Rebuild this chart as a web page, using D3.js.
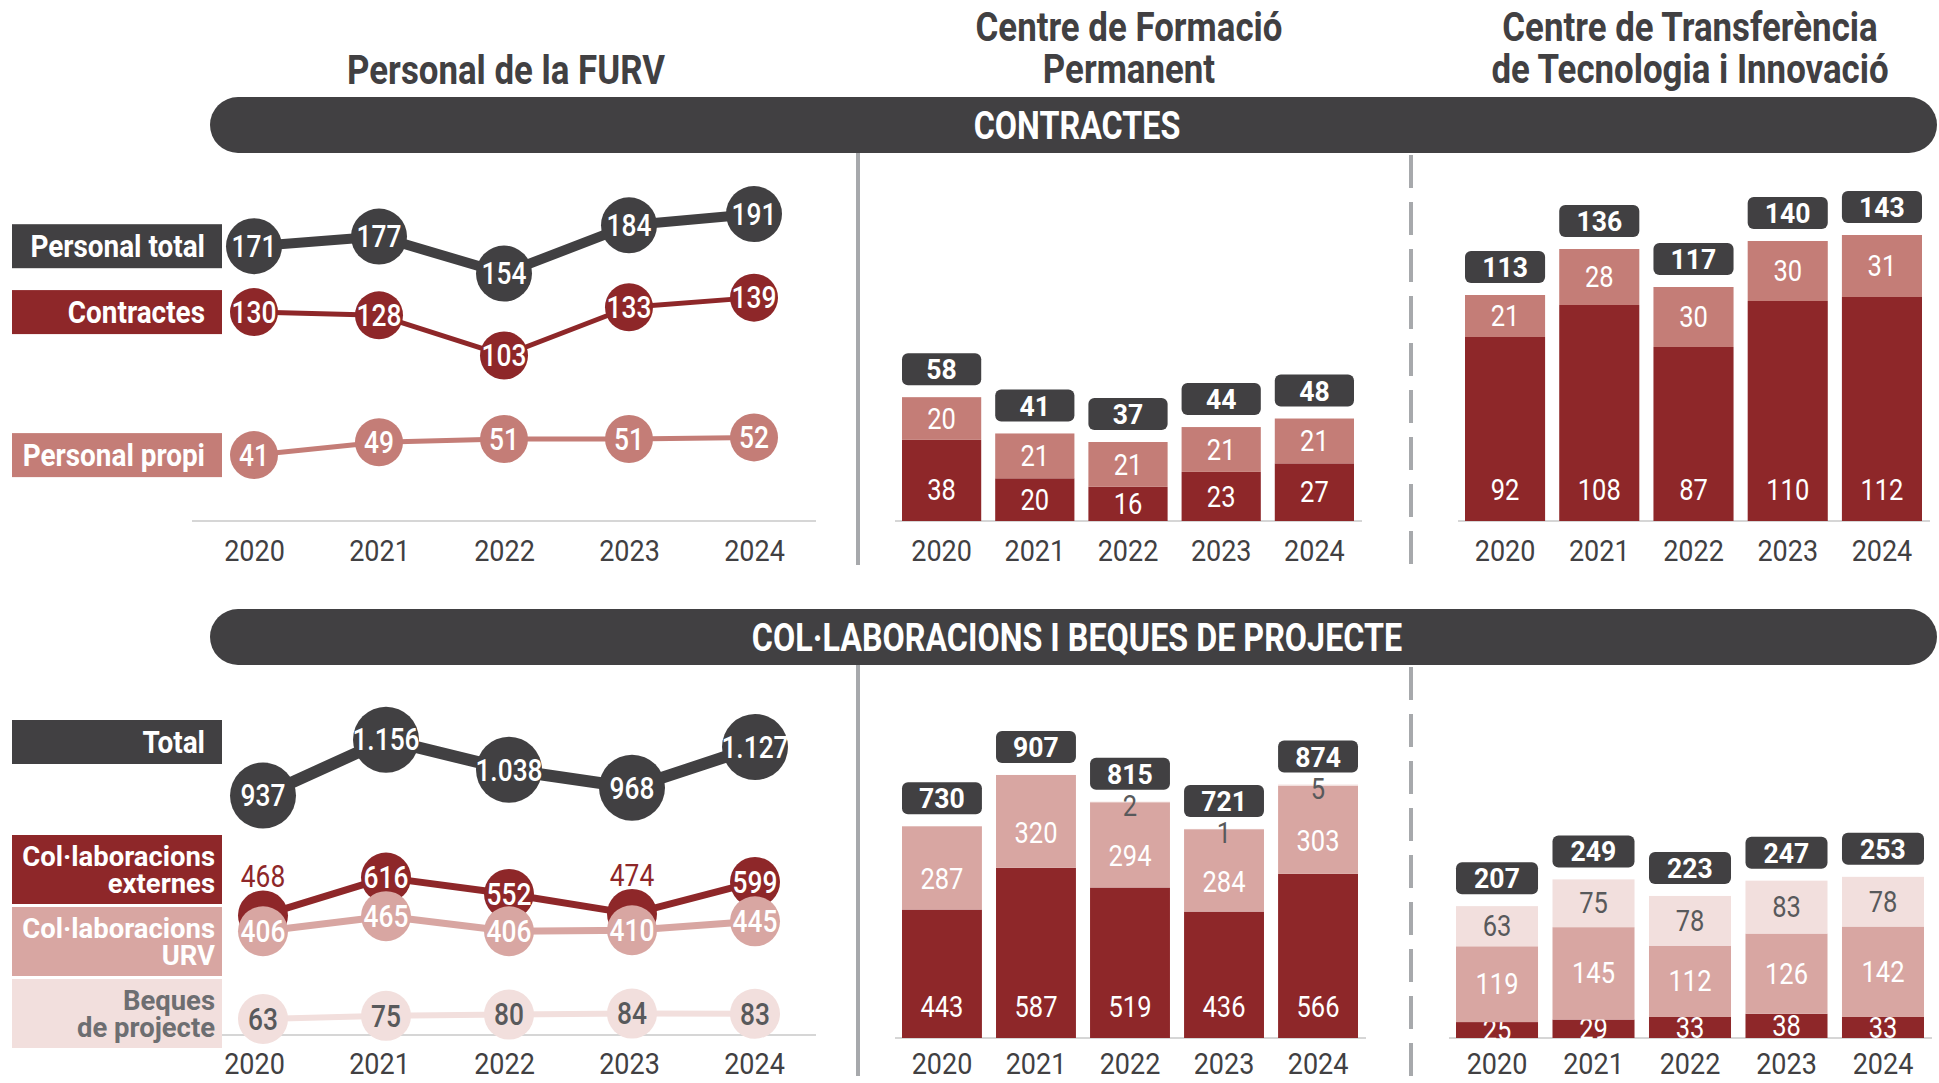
<!DOCTYPE html>
<html>
<head>
<meta charset="utf-8">
<script src="https://cdn.jsdelivr.net/npm/d3@7"></script>
<style>
  body { margin: 0; background: #fff; }
  svg text { font-family: Roboto, 'Open Sans', sans-serif; }
</style>
</head>
<body>
<svg id="chart" width="1939" height="1083"></svg>
<script>
const years = ["2020", "2021", "2022", "2023", "2024"];

// Personal de la FURV
const personalTotal = [171, 177, 154, 184, 191];
const personalContractes = [130, 128, 103, 133, 139];
const personalPropi = [41, 49, 51, 51, 52];

// Centre de Formació Permanent - contractes
const cfpContractes = [38, 20, 16, 23, 27];
const cfpPropi = [20, 21, 21, 21, 21];
const cfpTotal = [58, 41, 37, 44, 48];

// Centre de Transferència de Tecnologia i Innovació - contractes
const cttiContractes = [92, 108, 87, 110, 112];
const cttiPropi = [21, 28, 30, 30, 31];
const cttiTotal = [113, 136, 117, 140, 143];

// Col·laboracions i beques - FURV
const collabTotal = [937, 1156, 1038, 968, 1127];
const collabExternes = [468, 616, 552, 474, 599];
const collabURV = [406, 465, 406, 410, 445];
const collabBeques = [63, 75, 80, 84, 83];

// CFP col·laboracions
const cfpExternes = [443, 587, 519, 436, 566];
const cfpURV = [287, 320, 294, 284, 303];
const cfpBeques = [0, 0, 2, 1, 5];
const cfpCollabTotal = [730, 907, 815, 721, 874];

// CTTI col·laboracions
const cttiExternes = [25, 29, 33, 38, 33];
const cttiURV = [119, 145, 112, 126, 142];
const cttiBeques = [63, 75, 78, 83, 78];
const cttiCollabTotal = [207, 249, 223, 247, 253];

const dark = "#414042", red = "#8e2729", pink = "#c47d77", rose = "#d8a6a2", blush = "#f2dfdd";
const sepColor = "#a7a9ac", baseColor = "#d6d6d6", greyText = "#58595b";

const fmt = d3.formatLocale({ decimal: ",", thousands: ".", grouping: [3], currency: ["", "€"] }).format(",d");

const svg = d3.select("#chart");

// narrow the glyphs horizontally around the text anchor (condensed look)
function squeeze(sel, k) {
    sel.attr("transform", function () {
        var x = +this.getAttribute("x") || 0;
        return "translate(" + x + ",0) scale(" + k + ",1) translate(" + (-x) + ",0)";
    });
}

// Titles
function title(x, lines, y0) {
    lines.forEach(function (t, i) {
        svg.append("text")
            .attr("x", x).attr("y", y0 + i * 42)
            .attr("text-anchor", "middle")
            .attr("font-size", 41).attr("font-weight", "bold")
            .attr("fill", dark)
            .text(t)
            .call(squeeze, 0.85);
    });
}
title(506, ["Personal de la FURV"], 84);
title(1129, ["Centre de Formació", "Permanent"], 41);
title(1690, ["Centre de Transferència", "de Tecnologia i Innovació"], 41);

// Banners
function banner(y, label) {
    svg.append("rect")
        .attr("x", 210).attr("y", y).attr("width", 1727).attr("height", 56)
        .attr("rx", 28).attr("fill", dark);
    svg.append("text")
        .attr("x", 1077).attr("y", y + 28).attr("dy", "0.36em")
        .attr("text-anchor", "middle").attr("font-size", 38).attr("font-weight", "bold")
        .attr("fill", "#fff").text(label)
        .call(squeeze, 0.85);
}
banner(97, "CONTRACTES");
banner(609, "COL·LABORACIONS I BEQUES DE PROJECTE");

// Separators
[[153, 565], [665, 1076]].forEach(function (r) {
    svg.append("line").attr("x1", 858).attr("x2", 858).attr("y1", r[0]).attr("y2", r[1])
        .attr("stroke", sepColor).attr("stroke-width", 4);
    svg.append("line").attr("x1", 1411).attr("x2", 1411).attr("y1", r[0] + 2).attr("y2", r[1])
        .attr("stroke", sepColor).attr("stroke-width", 4).attr("stroke-dasharray", "33,14");
});

// Year axis
function yearAxis(x, yBase, yText, x1, x2) {
    svg.append("line").attr("x1", x1).attr("x2", x2).attr("y1", yBase).attr("y2", yBase)
        .attr("stroke", baseColor).attr("stroke-width", 2);
    var g = svg.append("g")
        .attr("transform", "translate(0," + yBase + ")")
        .call(d3.axisBottom(x).tickSize(0));
    g.select(".domain").remove();
    g.selectAll("text")
        .attr("y", yText - yBase).attr("dy", 0)
        .attr("font-size", 30).attr("fill", dark)
        .call(squeeze, 0.9);
}

// Legend boxes
function legendBox(y0, h, fill, lines, color, xr, fs, lh, k) {
    svg.append("rect").attr("x", 12).attr("y", y0).attr("width", 210).attr("height", h).attr("fill", fill);
    var n = lines.length;
    lines.forEach(function (t, i) {
        svg.append("text")
            .attr("x", xr)
            .attr("y", y0 + h / 2 + (i - (n - 1) / 2) * lh)
            .attr("dy", "0.35em")
            .attr("text-anchor", "end")
            .attr("font-size", fs).attr("font-weight", "bold")
            .attr("fill", color).text(t)
            .call(squeeze, k);
    });
}

// Line series
function drawLine(x, y, values, st) {
    var pts = years.map(function (yr, i) { return { year: yr, v: values[i], i: i }; });
    var up = function (d) { return st.above ? st.above(d) : false; };
    var g = svg.append("g");
    g.append("path").datum(pts)
        .attr("d", d3.line().x(function (d) { return x(d.year); }).y(function (d) { return y(d.v); }))
        .attr("fill", "none").attr("stroke", st.color)
        .attr("stroke-width", st.width).attr("stroke-linejoin", "round");
    g.selectAll("circle").data(pts).enter().append("circle")
        .attr("cx", function (d) { return x(d.year); })
        .attr("cy", function (d) { return y(d.v); })
        .attr("r", st.r).attr("fill", st.color);
    g.selectAll("text").data(pts).enter().append("text")
        .attr("x", function (d) { return x(d.year); })
        .attr("y", function (d) { return y(d.v) + (up(d) ? -39 : 0); })
        .attr("dy", "0.35em")
        .attr("text-anchor", "middle")
        .attr("font-size", 31)
        .attr("font-weight", function (d) { return up(d) ? "normal" : 500; })
        .attr("fill", function (d) { return up(d) ? st.color : st.text; })
        .text(function (d) { return fmt(d.v); })
        .call(squeeze, 0.85);
}

// ---------- Top left: Personal de la FURV ----------
var xTop = d3.scalePoint().domain(years).range([254, 754]);
var yTop = d3.scaleLinear().domain([0, 200]).range([521, 199.6]);

yearAxis(xTop, 521, 561, 192, 816);

var topSeries = [
    { name: "Personal total", values: personalTotal, color: dark, width: 10, r: 28, text: "#fff" },
    { name: "Contractes", values: personalContractes, color: red, width: 5, r: 24, text: "#fff" },
    { name: "Personal propi", values: personalPropi, color: pink, width: 5, r: 24, text: "#fff" }
];
topSeries.forEach(function (s) {
    legendBox(yTop(s.values[0]) - 22, 44, s.color, [s.name], "#fff", 205, 31, 0, 0.9);
    drawLine(xTop, yTop, s.values, s);
});

// ---------- Bottom left: col·laboracions FURV ----------
var xBot = d3.scalePoint().domain(years).range([263, 755]);
var yBot = d3.scaleLinear().domain([0, 1200]).range([1035, 728.4]);

yearAxis(xTop, 1035, 1074, 192, 816);

legendBox(720, 44, dark, ["Total"], "#fff", 205, 31, 0, 0.9);
legendBox(835, 69, red, ["Col·laboracions", "externes"], "#fff", 215, 28, 27, 0.98);
legendBox(907, 69, rose, ["Col·laboracions", "URV"], "#fff", 215, 28, 27, 0.98);
legendBox(979, 69, blush, ["Beques", "de projecte"], "#6d6e71", 215, 28, 27, 0.98);

drawLine(xBot, yBot, collabTotal, { color: dark, width: 12, r: 33, text: "#fff" });
drawLine(xBot, yBot, collabExternes, {
    color: red, width: 7, r: 25, text: "#fff",
    above: function (d) { return collabExternes[d.i] - collabURV[d.i] < 100; }
});
drawLine(xBot, yBot, collabURV, { color: rose, width: 7, r: 25, text: "#fff" });
drawLine(xBot, yBot, collabBeques, { color: blush, width: 6, r: 25, text: greyText });

// ---------- Stacked bars ----------
function stackedBars(cfg) {
    var x = d3.scaleBand().domain(years).range(cfg.xRange).paddingInner(0.15);
    var y = d3.scaleLinear().domain(cfg.yDomain).range([cfg.base, cfg.yTop]);
    var keys = cfg.layers.map(function (l) { return l.key; });
    var rows = years.map(function (yr, i) {
        var o = { year: yr, total: cfg.totals[i] };
        cfg.layers.forEach(function (l) { o[l.key] = l.values[i]; });
        return o;
    });
    var series = d3.stack().keys(keys)(rows);

    yearAxis(x, cfg.base, cfg.yearY, cfg.xRange[0] - 7, cfg.xRange[1] + 8);

    series.forEach(function (s, li) {
        var layer = cfg.layers[li];
        var g = svg.append("g");
        g.selectAll("rect").data(s).enter().append("rect")
            .attr("x", function (d) { return x(d.data.year); })
            .attr("width", x.bandwidth())
            .attr("y", function (d) { return y(d[1]); })
            .attr("height", function (d) { return y(d[0]) - y(d[1]); })
            .attr("fill", layer.color);
        g.selectAll("text").data(s.filter(function (d) { return d[1] - d[0] > 0; })).enter().append("text")
            .attr("x", function (d) { return x(d.data.year) + x.bandwidth() / 2; })
            .attr("y", function (d) {
                var h = y(d[0]) - y(d[1]);
                var c = (y(d[0]) + y(d[1])) / 2;
                if (h < 15 && li > 0) return y(d[1]) + 4;
                if (li === 0) return Math.max(c, cfg.base - 31);
                return c + (layer.offset || 0);
            })
            .attr("dy", "0.35em")
            .attr("text-anchor", "middle")
            .attr("font-size", 29)
            .attr("fill", layer.text)
            .text(function (d) { return fmt(d[1] - d[0]); })
            .call(squeeze, 0.88);
    });

    var tg = svg.append("g");
    tg.selectAll("rect").data(rows).enter().append("rect")
        .attr("x", function (d) { return x(d.year); })
        .attr("width", x.bandwidth())
        .attr("y", function (d) { return y(d.total) - 12 - 32; })
        .attr("height", 32).attr("rx", 6)
        .attr("fill", dark);
    tg.selectAll("text").data(rows).enter().append("text")
        .attr("x", function (d) { return x(d.year) + x.bandwidth() / 2; })
        .attr("y", function (d) { return y(d.total) - 12 - 16; })
        .attr("dy", "0.36em")
        .attr("text-anchor", "middle")
        .attr("font-size", 28).attr("font-weight", "bold")
        .attr("fill", "#fff")
        .text(function (d) { return fmt(d.total); })
        .call(squeeze, 0.95);
}

stackedBars({
    xRange: [902, 1354], base: 521, yearY: 561, yDomain: [0, 60], yTop: 392.9, totals: cfpTotal,
    layers: [
        { key: "contractes", values: cfpContractes, color: red, text: "#fff" },
        { key: "propi", values: cfpPropi, color: pink, text: "#fff" }
    ]
});
stackedBars({
    xRange: [1465, 1922], base: 521, yearY: 561, yDomain: [0, 150], yTop: 221, totals: cttiTotal,
    layers: [
        { key: "contractes", values: cttiContractes, color: red, text: "#fff" },
        { key: "propi", values: cttiPropi, color: pink, text: "#fff" }
    ]
});
stackedBars({
    xRange: [902, 1358], base: 1038, yearY: 1074, yDomain: [0, 1000], yTop: 748, totals: cfpCollabTotal,
    layers: [
        { key: "externes", values: cfpExternes, color: red, text: "#fff" },
        { key: "urv", values: cfpURV, color: rose, text: "#fff", offset: 11 },
        { key: "beques", values: cfpBeques, color: blush, text: greyText }
    ]
});
stackedBars({
    xRange: [1456, 1924], base: 1038, yearY: 1074, yDomain: [0, 300], yTop: 846.9, totals: cttiCollabTotal,
    layers: [
        { key: "externes", values: cttiExternes, color: red, text: "#fff" },
        { key: "urv", values: cttiURV, color: rose, text: "#fff" },
        { key: "beques", values: cttiBeques, color: blush, text: greyText }
    ]
});
</script>
</body>
</html>
